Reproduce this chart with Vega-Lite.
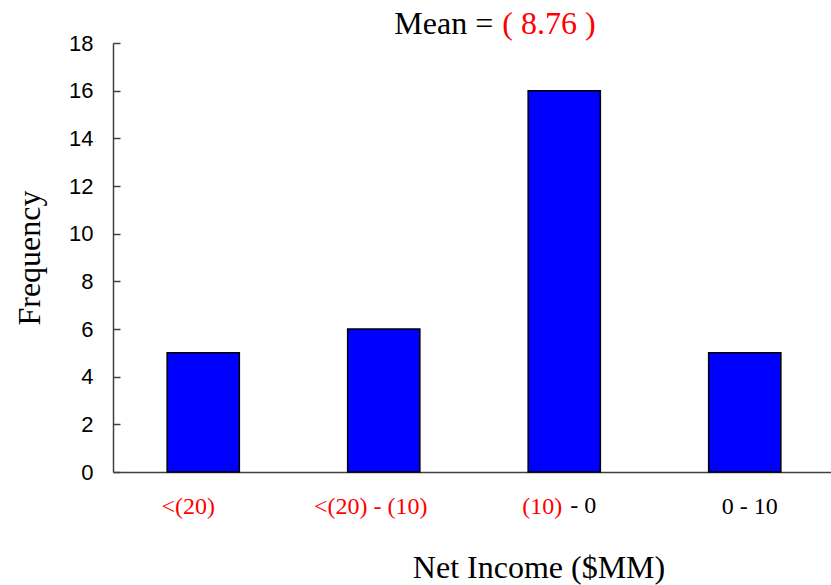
{
  "$schema": "https://vega.github.io/schema/vega-lite/v6.json",
  "width": 722,
  "height": 429,
  "autosize": "none",
  "padding": {"left": 113, "top": 43, "right": 0, "bottom": 113},
  "background": "white",
  "config": {"view": {"stroke": null}, "font": "Liberation Serif"},
  "datasets": {
    "bins": [
      {"bin": "<(20)", "count": 5},
      {"bin": "<(20) - (10)", "count": 6},
      {"bin": "(10) - 0", "count": 16},
      {"bin": "0 - 10", "count": 5}
    ],
    "summary": [{"mean": 8.76}]
  },
  "layer": [
    {
      "data": {"name": "bins"},
      "mark": {"type": "bar", "fill": "#0000FF", "stroke": "black", "strokeWidth": 1.5},
      "encoding": {
        "x": {
          "field": "bin",
          "type": "nominal",
          "sort": null,
          "scale": {"paddingInner": 0.6, "paddingOuter": 0.3},
          "axis": {
            "title": "Net Income ($MM)",
            "titleFont": "Liberation Serif",
            "titleFontSize": 32,
            "titleFontWeight": "normal",
            "titleColor": "black",
            "titleX": 425.5,
            "titleY": 105,
            "titleAlign": "center",
            "titleBaseline": "alphabetic",
            "domainColor": "#404040",
            "domainWidth": 1.5,
            "ticks": false,
            "labelAngle": 0,
            "labelFont": "Liberation Serif",
            "labelFontSize": 24,
            "labelBaseline": "alphabetic",
            "labelPadding": 41,
            "labelExpr": "datum.value === '(10) - 0' ? '(10)' : datum.value",
            "labelColor": {"condition": {"test": "datum.value === '0 - 10'", "value": "black"}, "value": "#FF0000"},
            "labelAlign": {"condition": {"test": "datum.value === '(10) - 0'", "value": "right"}, "value": "center"},
            "labelOffset": {
              "condition": [
                {"test": "datum.value === '<(20)'", "value": -15},
                {"test": "datum.value === '<(20) - (10)'", "value": -13},
                {"test": "datum.value === '(10) - 0'", "value": -2}
              ],
              "value": 5
            }
          }
        },
        "y": {
          "field": "count",
          "type": "quantitative",
          "scale": {"domain": [0, 18], "nice": false},
          "axis": {
            "values": [0, 2, 4, 6, 8, 10, 12, 14, 16, 18],
            "grid": false,
            "title": "Frequency",
            "titleFont": "Liberation Serif",
            "titleFontSize": 32,
            "titleFontWeight": "normal",
            "titleColor": "black",
            "titleX": -74,
            "titleBaseline": "alphabetic",
            "domainColor": "#404040",
            "domainWidth": 1.5,
            "tickColor": "#404040",
            "tickWidth": 1.5,
            "tickSize": -7,
            "labelPadding": 27,
            "labelFont": "Liberation Sans",
            "labelFontSize": 22,
            "labelColor": "black"
          }
        }
      }
    },
    {
      "data": {"name": "bins"},
      "transform": [{"filter": "datum.bin === '(10) - 0'"}],
      "mark": {"type": "text", "align": "left", "baseline": "alphabetic", "dx": 6, "dy": 41, "font": "Liberation Serif", "fontSize": 24, "color": "black"},
      "encoding": {
        "x": {"field": "bin", "type": "nominal", "sort": null},
        "y": {"datum": 0, "type": "quantitative"},
        "text": {"value": "- 0"}
      }
    },
    {
      "data": {"name": "summary"},
      "mark": {"type": "text", "align": "right", "baseline": "alphabetic", "dx": -71, "dy": -9, "font": "Liberation Serif", "fontSize": 32, "color": "black"},
      "encoding": {
        "x": {"datum": "(10) - 0", "type": "nominal"},
        "y": {"datum": 18, "type": "quantitative"},
        "text": {"value": "Mean ="}
      }
    },
    {
      "data": {"name": "summary"},
      "transform": [{"calculate": "'( ' + format(datum.mean, '.2f') + ' )'", "as": "meanLabel"}],
      "mark": {"type": "text", "align": "left", "baseline": "alphabetic", "dx": -62, "dy": -9, "font": "Liberation Serif", "fontSize": 32, "color": "#FF0000"},
      "encoding": {
        "x": {"datum": "(10) - 0", "type": "nominal"},
        "y": {"datum": 18, "type": "quantitative"},
        "text": {"field": "meanLabel", "type": "nominal"}
      }
    }
  ]
}
